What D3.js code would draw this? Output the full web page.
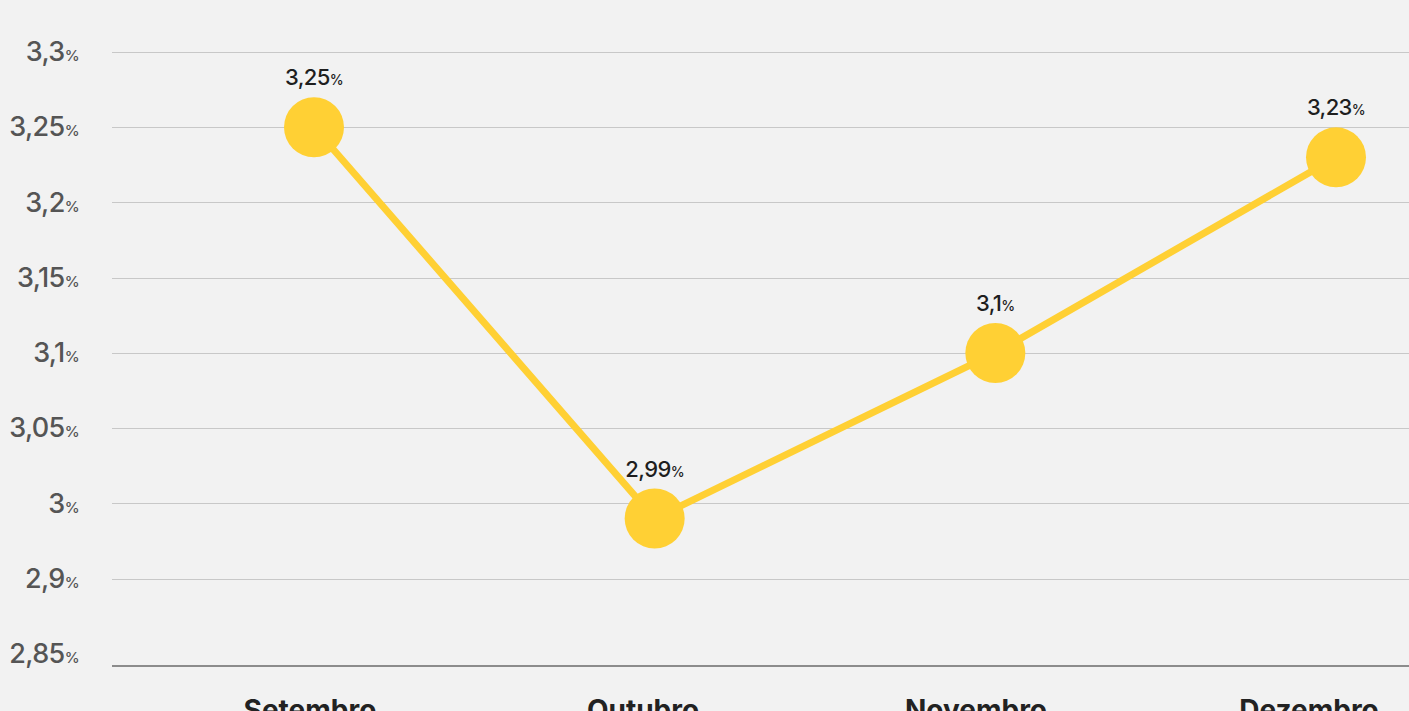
<!DOCTYPE html>
<meta charset="utf-8">
<style>
  body { margin: 0; background: #f2f2f2; overflow: hidden; }
  svg { display: block; font-family: Inter, "Noto Sans", sans-serif; }
</style>
<body>
<div id="chart"></div>
<script src="https://d3js.org/d3.v7.min.js"></script>
<script>
  // meses e taxas (%)
  var months = ["Setembro", "Outubro", "Novembro", "Dezembro"];
  var rates = [3.25, 2.99, 3.1, 3.23];
  var rateLabels = ["3,25", "2,99", "3,1", "3,23"];

  // ticks do eixo y como aparecem no original
  var tickValues = [3.3, 3.25, 3.2, 3.15, 3.1, 3.05, 3.0, 2.95, 2.9];
  var tickLabels = ["3,3", "3,25", "3,2", "3,15", "3,1", "3,05", "3", "2,9", "2,85"];

  var width = 1409, height = 711;
  var yellow = "#ffd034";

  var svg = d3.select("#chart").append("svg")
    .attr("width", width)
    .attr("height", height);

  var y = d3.scaleLinear()
    .domain([2.9, 3.3])
    .range([654, 52]);

  var x = d3.scalePoint()
    .domain(months)
    .range([314, 1336]);

  // os rotulos do eixo x ficam num passo um pouco diferente
  var xLabel = d3.scalePoint()
    .domain(months)
    .range([310, 1309]);

  // grid
  svg.append("g")
    .selectAll("line")
    .data(tickValues.slice(0, -1))
    .enter().append("line")
    .attr("x1", 112)
    .attr("x2", width)
    .attr("y1", d => Math.round(y(d)) + 0.5)
    .attr("y2", d => Math.round(y(d)) + 0.5)
    .style("stroke", "#c8c8c8")
    .style("stroke-width", 1);

  // base line
  svg.append("line")
    .attr("x1", 112).attr("x2", width)
    .attr("y1", 666).attr("y2", 666)
    .style("stroke", "#8c8c8c")
    .style("stroke-width", 2);

  // y labels
  var yl = svg.append("g")
    .selectAll("text")
    .data(tickValues)
    .enter().append("text")
    .attr("x", 79)
    .attr("y", d => y(d) + 9)
    .attr("text-anchor", "end")
    .style("fill", "#555")
    .style("font-size", "27px")
    .style("font-weight", 500)
    .style("letter-spacing", "-0.6px");
  yl.append("tspan").text((d, i) => tickLabels[i]);
  yl.append("tspan").text("%").style("font-size", "15px");

  // x labels
  svg.append("g")
    .selectAll("text")
    .data(months)
    .enter().append("text")
    .attr("x", d => xLabel(d))
    .attr("y", 720)
    .attr("text-anchor", "middle")
    .style("fill", "#222")
    .style("font-size", "28px")
    .style("font-weight", 700)
    .text(d => d);

  var pts = months.map((m, i) => ({ m: m, v: rates[i], label: rateLabels[i] }));

  svg.append("path")
    .datum(pts)
    .attr("d", d3.line().x(d => x(d.m)).y(d => y(d.v)))
    .style("fill", "none")
    .style("stroke", yellow)
    .style("stroke-width", 7);

  svg.append("g")
    .selectAll("circle")
    .data(pts)
    .enter().append("circle")
    .attr("cx", d => x(d.m))
    .attr("cy", d => y(d.v))
    .attr("r", 30)
    .style("fill", yellow);

  var vl = svg.append("g")
    .selectAll("text")
    .data(pts)
    .enter().append("text")
    .attr("x", d => x(d.m))
    .attr("y", d => y(d.v) - 42)
    .attr("text-anchor", "middle")
    .style("fill", "#1e1e1e")
    .style("font-size", "22px")
    .style("font-weight", 500)
    .style("letter-spacing", "-0.6px");
  vl.append("tspan").text(d => d.label);
  vl.append("tspan").text("%").style("font-size", "14px");
</script>
</body>
